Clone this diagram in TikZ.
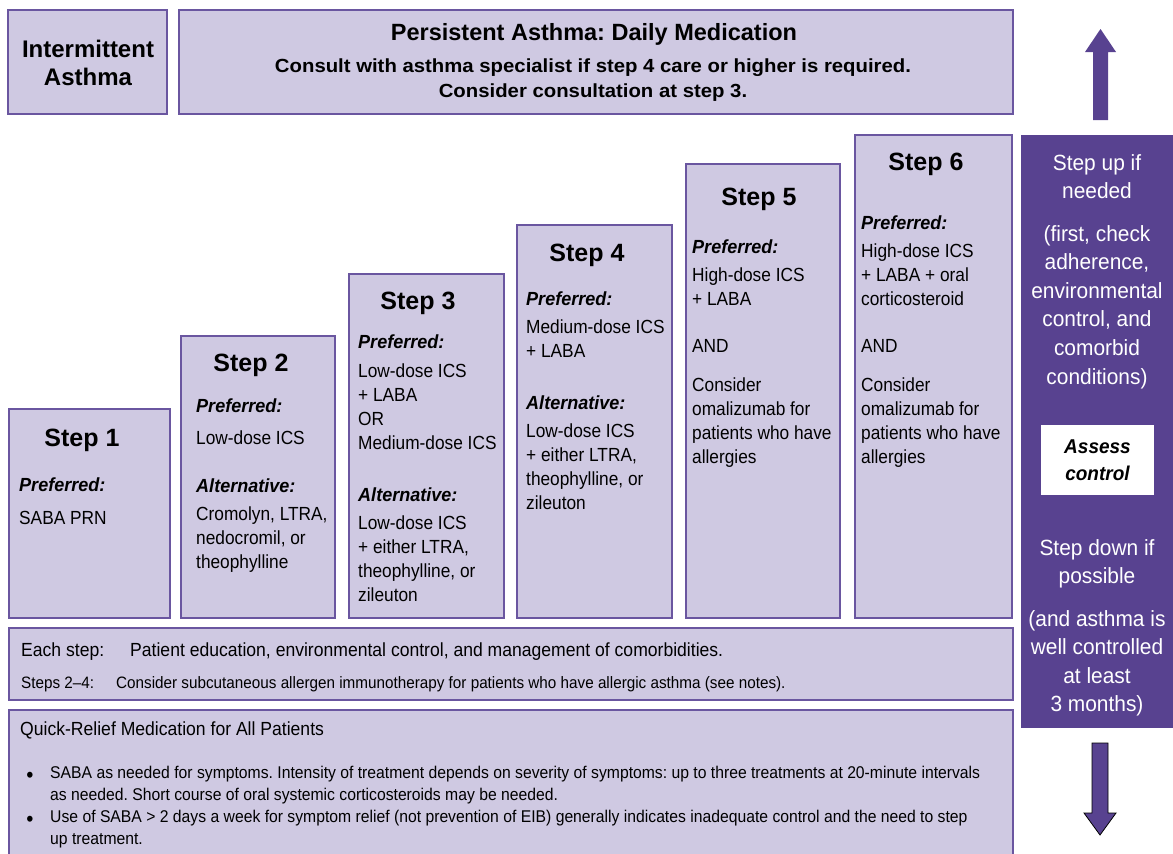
\documentclass[tikz,border=0pt]{standalone}
\usepackage{fontspec}
\setmainfont{Liberation Sans}
\newfontfamily\bodyfont[FakeStretch=0.91]{Liberation Sans}
\newfontfamily\notefont[FakeStretch=0.925]{Liberation Sans}
\newfontfamily\labelfont[FakeStretch=0.95]{Liberation Sans}
\newfontfamily\panelfont[FakeStretch=0.95]{Liberation Sans}
\newfontfamily\headfont{Liberation Sans}
\newfontfamily\wideheadfont[FakeStretch=1.07]{Liberation Sans}
\frenchspacing

\definecolor{boxfill}{RGB}{207,201,226}
\definecolor{boxline}{RGB}{106,86,160}
\definecolor{panelfill}{RGB}{88,66,144}

\tikzset{
  stepbox/.style={draw=boxline, fill=boxfill, line width=2pt, rectangle,
    inner sep=0pt, outer sep=0pt, anchor=north west},
  body/.style={font=\bodyfont\fontsize{19}{24}\selectfont, align=left,
    inner sep=0pt, anchor=north west, execute at begin node=\strut},
  lbl/.style={font=\labelfont\bfseries\itshape\fontsize{19}{24}\selectfont,
    inner sep=0pt, anchor=base west},
  steptitle/.style={font=\headfont\bfseries\fontsize{25}{30}\selectfont,
    inner sep=0pt, anchor=base},
  paneltext/.style={font=\panelfont\fontsize{22}{28.6}\selectfont, text=white,
    align=center, inner sep=0pt, anchor=north, execute at begin node=\strut},
  note/.style={font=\notefont\fontsize{#1}{22}\selectfont, inner sep=0pt,
    anchor=base west},
  bulletdot/.style={font=\notefont\fontsize{22}{22}\selectfont, inner sep=0pt,
    anchor=base},
  bullettext/.style={font=\notefont\fontsize{17}{22}\selectfont, align=left,
    inner sep=0pt, anchor=north west, execute at begin node=\strut},
}

% box from (x1,y1) to (x2,y2), y measured downwards
\newcommand\placebox[6]{%
  \node[#1, minimum width={#4-#2}, minimum height={#5-#3}] (#6) at (#2,#3) {};}

\begin{document}
\begin{tikzpicture}[x=1pt, y=-1pt]
\useasboundingbox (0,0) rectangle (1173,854);

% ---------- header boxes ----------
\placebox{stepbox}{8}{10}{167}{114}{intermittent}
\node[font=\headfont\bfseries\fontsize{24}{28}\selectfont, align=center, inner sep=0pt]
  (intermittentText) at (88,63) {Intermittent\\Asthma};

\placebox{stepbox}{179}{10}{1013}{114}{persistent}
\node[font=\headfont\bfseries\fontsize{23.5}{28}\selectfont, inner sep=0pt, anchor=base]
  (persistentTitle) at (594,40) {Persistent Asthma: Daily Medication};
\node[font=\wideheadfont\bfseries\fontsize{19}{24}\selectfont, inner sep=0pt, anchor=base]
  (consultA) at (593,72) {Consult with asthma specialist if step 4 care or higher is required.};
\node[font=\wideheadfont\bfseries\fontsize{19}{24}\selectfont, inner sep=0pt, anchor=base]
  (consultB) at (593,97) {Consider consultation at step 3.};

% ---------- staircase of steps ----------
\placebox{stepbox}{9}{409}{170}{618}{step1}
\placebox{stepbox}{181}{336}{335}{618}{step2}
\placebox{stepbox}{349}{274}{504}{618}{step3}
\placebox{stepbox}{517}{225}{672}{618}{step4}
\placebox{stepbox}{686}{164}{840}{618}{step5}
\placebox{stepbox}{855}{135}{1012}{618}{step6}

% Step 1
\node[steptitle] (t1) at (82,446) {Step 1};
\node[lbl] (p1) at (19,491) {Preferred:};
\node[body] (p1txt) at (19,507) {SABA PRN};

% Step 2
\node[steptitle] (t2) at (251,371) {Step 2};
\node[lbl] (p2) at (196,412) {Preferred:};
\node[body] (p2txt) at (196,427) {Low-dose ICS};
\node[lbl] (a2) at (196,492) {Alternative:};
\node[body] (a2txt) at (196,507) {Cromolyn, LTRA,\\nedocromil, or\\theophylline};

% Step 3
\node[steptitle] (t3) at (418,309) {Step 3};
\node[lbl] (p3) at (358,348) {Preferred:};
\node[body] (p3txt) at (358,364) {Low-dose ICS\\+ LABA\\OR\\Medium-dose ICS};
\node[lbl] (a3) at (358,501) {Alternative:};
\node[body] (a3txt) at (358,516) {Low-dose ICS\\+ either LTRA,\\theophylline, or\\zileuton};

% Step 4
\node[steptitle] (t4) at (587,261) {Step 4};
\node[lbl] (p4) at (526,305) {Preferred:};
\node[body] (p4txt) at (526,320) {Medium-dose ICS\\+ LABA};
\node[lbl] (a4) at (526,409) {Alternative:};
\node[body] (a4txt) at (526,424) {Low-dose ICS\\+ either LTRA,\\theophylline, or\\zileuton};

% Step 5
\node[steptitle] (t5) at (759,205) {Step 5};
\node[lbl] (p5) at (692,253) {Preferred:};
\node[body] (p5txt) at (692,268) {High-dose ICS\\+ LABA};
\node[body] (and5) at (692,335) {AND};
\node[body] (c5) at (692,378) {Consider\\omalizumab for\\patients who have\\allergies};

% Step 6
\node[steptitle] (t6) at (926,170) {Step 6};
\node[lbl] (p6) at (861,229) {Preferred:};
\node[body] (p6txt) at (861,244) {High-dose ICS\\+ LABA + oral\\corticosteroid};
\node[body] (and6) at (861,335) {AND};
\node[body] (c6) at (861,378) {Consider\\omalizumab for\\patients who have\\allergies};

% ---------- every-step notes ----------
\placebox{stepbox}{9}{628}{1013}{700}{eachstep}
\node[note=19] (eachLbl) at (21,656) {Each step:};
\node[note=19] (eachTxt) at (130,656) {Patient education, environmental control, and management of comorbidities.};
\node[note=16.5] (stepsLbl) at (21,688) {Steps 2–4:};
\node[note=16.5] (stepsTxt) at (116,688) {Consider subcutaneous allergen immunotherapy for patients who have allergic asthma (see notes).};

% ---------- quick relief ----------
\placebox{stepbox}{9}{710}{1013}{862}{quick}
\node[note=19] (quickTitle) at (20,735) {Quick-Relief Medication for All Patients};
\node[bulletdot] (bulA) at (30,782) {\textbullet};
\node[bullettext] (bulAtxt) at (50,765.6) {SABA as needed for symptoms. Intensity of treatment depends on severity of symptoms: up to three treatments at 20-minute intervals\\as needed. Short course of oral systemic corticosteroids may be needed.};
\node[bulletdot] (bulB) at (30,826) {\textbullet};
\node[bullettext] (bulBtxt) at (50,809.6) {Use of SABA > 2 days a week for symptom relief (not prevention of EIB) generally indicates inadequate control and the need to step\\up treatment.};

% ---------- step up / step down panel ----------
\placebox{stepbox, draw=none, fill=panelfill}{1021}{135}{1175}{728}{panel}
\node[paneltext] (stepUp) at (1097,154) {Step up if\\needed};
\node[paneltext] (stepUpNote) at (1097,225) {(first, check\\adherence,\\environmental\\control, and\\comorbid\\conditions)};
\placebox{stepbox, draw=none, fill=white}{1041}{425}{1154}{495}{assess}
\node[font=\labelfont\bfseries\itshape\fontsize{20}{27}\selectfont, align=center,
  inner sep=0pt] (assessText) at (assess.center) {Assess\\control};
\node[paneltext] (stepDown) at (1097,539) {Step down if\\possible};
\node[paneltext] (stepDownNote) at (1097,610) {(and asthma is\\well controlled\\at least\\3 months)};

% up arrow above the panel
\fill[panelfill] (1093,120) -- (1093,52) -- (1085,52) -- (1100.5,29) -- (1116,52)
  -- (1108,52) -- (1108,120) -- cycle;
% down arrow below the panel
\filldraw[fill=panelfill, draw=black, line width=0.8pt]
  (1092,743) -- (1108,743) -- (1108,813) -- (1116,813) -- (1100,835)
  -- (1084,813) -- (1092,813) -- cycle;

\end{tikzpicture}
\end{document}
